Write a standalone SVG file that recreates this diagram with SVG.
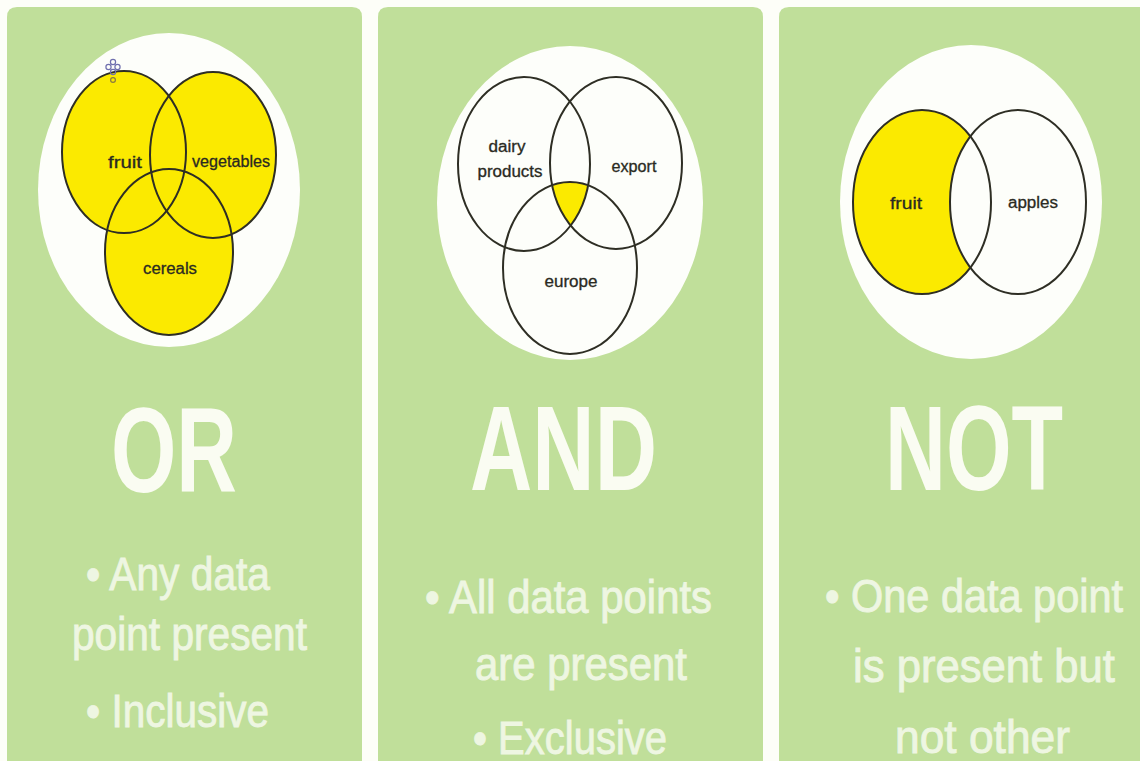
<svg xmlns="http://www.w3.org/2000/svg" width="1140" height="761" viewBox="0 0 1140 761">
<defs>
<style>
.panel{fill:#c0df9a}
.disc{fill:#fdfefa}
.ring{fill:none;stroke:#2e2e24;stroke-width:2}
.yel{fill:#fbea00}
.lbl{font-family:"Liberation Sans",Arial,sans-serif;font-size:16px;fill:#2a2a22;stroke:#2a2a22;stroke-width:0.3;text-anchor:middle}
.title{font-family:"Liberation Sans",Arial,sans-serif;font-weight:bold;font-size:121px;fill:#fafcf2}
.bul{font-family:"Liberation Sans",Arial,sans-serif;font-size:46px;fill:#eef6e2;stroke:#eef6e2;stroke-width:0.9}
</style>
<clipPath id="cDairy"><ellipse cx="524" cy="164" rx="66" ry="87"/></clipPath>
<clipPath id="cExport"><ellipse cx="616" cy="163" rx="66" ry="86"/></clipPath>
</defs>
<rect width="1140" height="761" fill="#fdfef8"/>

<g id="panel-or">
<path class="panel" d="M7,17 Q7,7 17,7 L352,7 Q362,7 362,17 L362,761 L7,761 Z"/>
<ellipse class="disc" cx="169" cy="190" rx="131" ry="157"/>
<ellipse class="yel" cx="124" cy="152" rx="62" ry="81"/>
<ellipse class="yel" cx="213" cy="155" rx="63" ry="83"/>
<ellipse class="yel" cx="169" cy="252" rx="64" ry="83"/>
<ellipse class="ring" cx="124" cy="152" rx="62" ry="81" stroke="#3a3816"/>
<ellipse class="ring" cx="213" cy="155" rx="63" ry="83" stroke="#3a3816"/>
<ellipse class="ring" cx="169" cy="252" rx="64" ry="83" stroke="#3a3816"/>
<g fill="none" stroke="#6f6fae" stroke-width="1.2">
<circle cx="113" cy="62" r="2.6"/>
<circle cx="108.5" cy="67" r="2.6"/>
<circle cx="117.5" cy="67" r="2.6"/>
<circle cx="113" cy="72" r="2.6"/>
<circle cx="113" cy="80" r="2.4" stroke="#8a7a40"/>
</g>
<text class="lbl" x="125" y="168" textLength="34" lengthAdjust="spacingAndGlyphs">fruit</text>
<text class="lbl" x="231" y="167" textLength="78" lengthAdjust="spacingAndGlyphs">vegetables</text>
<text class="lbl" x="170" y="274" textLength="54" lengthAdjust="spacingAndGlyphs">cereals</text>
<text class="title" x="111" y="492" textLength="126" lengthAdjust="spacingAndGlyphs">OR</text>
<text class="bul" x="86" y="590" textLength="184" lengthAdjust="spacingAndGlyphs">• Any data</text>
<text class="bul" x="72" y="650" textLength="235" lengthAdjust="spacingAndGlyphs">point present</text>
<text class="bul" x="86" y="727" textLength="183" lengthAdjust="spacingAndGlyphs">• Inclusive</text>
</g>

<g id="panel-and">
<path class="panel" d="M378,17 Q378,7 388,7 L753,7 Q763,7 763,17 L763,761 L378,761 Z"/>
<ellipse class="disc" cx="570" cy="203" rx="133" ry="157"/>
<g clip-path="url(#cDairy)">
<ellipse class="yel" cx="570" cy="268" rx="67" ry="86" clip-path="url(#cExport)"/>
</g>
<ellipse class="ring" cx="524" cy="164" rx="66" ry="87"/>
<ellipse class="ring" cx="616" cy="163" rx="66" ry="86"/>
<ellipse class="ring" cx="570" cy="268" rx="67" ry="86"/>
<text class="lbl" x="507" y="152" textLength="37" lengthAdjust="spacingAndGlyphs">dairy</text>
<text class="lbl" x="510" y="177" textLength="65" lengthAdjust="spacingAndGlyphs">products</text>
<text class="lbl" x="634" y="172" textLength="45" lengthAdjust="spacingAndGlyphs">export</text>
<text class="lbl" x="571" y="287" textLength="53" lengthAdjust="spacingAndGlyphs">europe</text>
<text class="title" x="470" y="490" textLength="187" lengthAdjust="spacingAndGlyphs">AND</text>
<text class="bul" x="425" y="613" font-size="50" textLength="287" lengthAdjust="spacingAndGlyphs">• All data points</text>
<text class="bul" x="475" y="680" font-size="50" textLength="212" lengthAdjust="spacingAndGlyphs">are present</text>
<text class="bul" x="473" y="754" font-size="50" textLength="194" lengthAdjust="spacingAndGlyphs">• Exclusive</text>
</g>

<g id="panel-not">
<path class="panel" d="M779,17 Q779,7 789,7 L1140,7 L1140,761 L779,761 Z"/>
<ellipse class="disc" cx="971" cy="202" rx="131" ry="157"/>
<ellipse class="yel" cx="922" cy="202" rx="69" ry="92"/>
<ellipse class="disc" cx="1018" cy="202" rx="68" ry="92"/>
<ellipse class="ring" cx="922" cy="202" rx="69" ry="92"/>
<ellipse class="ring" cx="1018" cy="202" rx="68" ry="92"/>
<text class="lbl" x="906" y="209" textLength="32" lengthAdjust="spacingAndGlyphs">fruit</text>
<text class="lbl" x="1033" y="208" textLength="50" lengthAdjust="spacingAndGlyphs">apples</text>
<text class="title" x="885" y="490" textLength="178" lengthAdjust="spacingAndGlyphs">NOT</text>
<text class="bul" x="825" y="612" font-size="51" textLength="298" lengthAdjust="spacingAndGlyphs">• One data point</text>
<text class="bul" x="853" y="682" font-size="51" textLength="262" lengthAdjust="spacingAndGlyphs">is present but</text>
<text class="bul" x="895" y="753" font-size="51" textLength="175" lengthAdjust="spacingAndGlyphs">not other</text>
</g>
</svg>
